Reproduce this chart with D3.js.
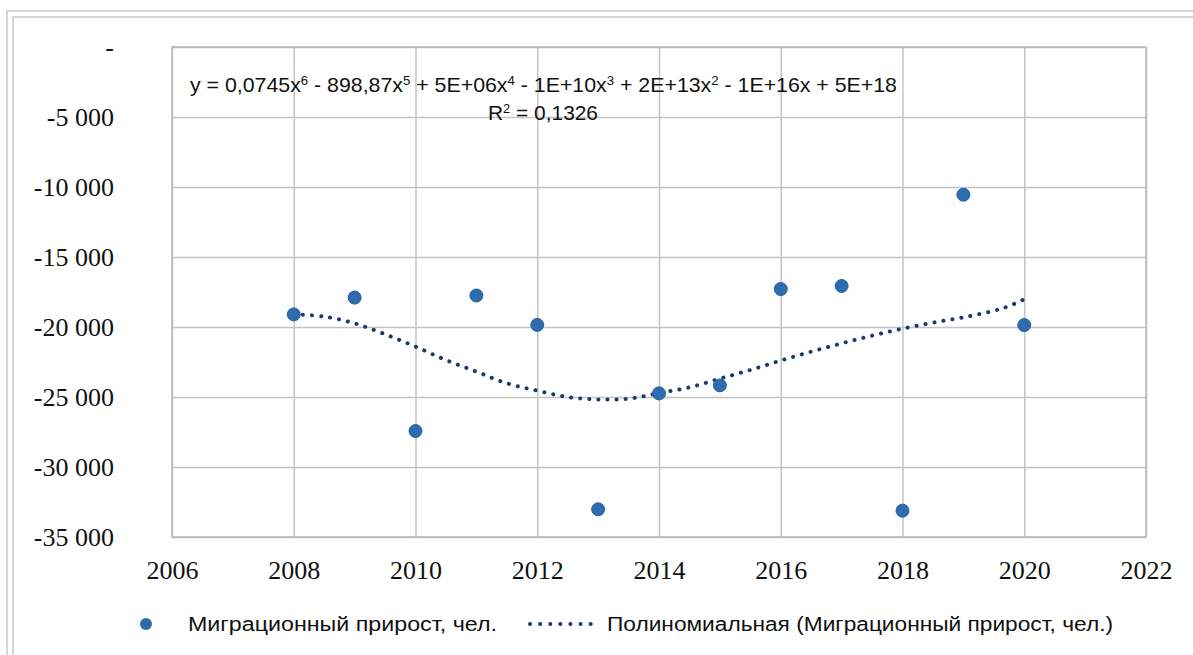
<!DOCTYPE html>
<html>
<head>
<meta charset="utf-8">
<script src="https://cdn.jsdelivr.net/npm/d3@7"></script>
<style>
  html, body { margin: 0; padding: 0; background: #fff; }
  svg { display: block; }
</style>
</head>
<body>
<svg id="chart" width="1193" height="655"></svg>
<script>
// ---- data ----
const years = [2008, 2009, 2010, 2011, 2012, 2013, 2014, 2015, 2016, 2017, 2018, 2019, 2020];
const values = [-19100, -17900, -27430, -17750, -19850, -33020, -24740, -24170, -17290, -17070, -33120, -10550, -19860];

// polynomial trendline as drawn in the reference
const trendYears = [2008, 2008.5, 2009, 2009.5, 2010, 2010.5, 2011, 2011.5, 2012, 2012.5, 2013, 2013.5, 2014,
                    2014.5, 2015, 2015.5, 2016, 2016.5, 2017, 2017.5, 2018, 2018.5, 2019, 2019.5, 2019.75, 2020];
const trendValues = [-19090, -19260, -19740, -20520, -21400, -22360, -23190, -24020, -24550, -25000, -25170, -25120, -24720,
                     -24310, -23690, -23070, -22400, -21760, -21170, -20620, -20120, -19690, -19310, -18840, -18500, -18020];

const xTicks = [2006, 2008, 2010, 2012, 2014, 2016, 2018, 2020, 2022];
const yTicks = [0, -5000, -10000, -15000, -20000, -25000, -30000, -35000];
const yTickLabels = ["-", "-5 000", "-10 000", "-15 000", "-20 000", "-25 000", "-30 000", "-35 000"];

const seriesName = "Миграционный прирост, чел.";
const trendName = "Полиномиальная (Миграционный прирост, чел.)";
const rSquared = "0,1326";

// ---- layout ----
const svg = d3.select("#chart");
const pLeft = 172, pRight = 1146, pTop = 47, pBottom = 537;
const x = d3.scaleLinear().domain([2006, 2022]).range([pLeft, pRight]);
const y = d3.scaleLinear().domain([-35000, 0]).range([pBottom, pTop]);

const gridColor = "#C4C4C4";
const pointColor = "#2E6DAD";
const trendColor = "#1B3A6B";

// outer double frame
const frame = svg.append("g").attr("fill", "none").attr("stroke", "#C8C8C8").attr("stroke-width", 1.5);
frame.append("path").attr("d", "M7,660 L7,11 L1200,11");
frame.append("path").attr("d", "M13,660 L13,17 L1200,17");

// gridlines
const grid = svg.append("g");
grid.append("g")
  .attr("transform", `translate(0,${pBottom})`)
  .call(d3.axisBottom(x).tickValues(xTicks).tickSize(-(pBottom - pTop)).tickFormat(""))
  .call(g => g.select(".domain").remove())
  .call(g => g.selectAll("line").attr("stroke", gridColor).attr("stroke-width", 1.5));
grid.append("g")
  .attr("transform", `translate(${pLeft},0)`)
  .call(d3.axisLeft(y).tickValues(yTicks).tickSize(-(pRight - pLeft)).tickFormat(""))
  .call(g => g.select(".domain").remove())
  .call(g => g.selectAll("line").attr("stroke", gridColor).attr("stroke-width", 1.5));

// plot border
svg.append("rect")
  .attr("x", pLeft).attr("y", pTop)
  .attr("width", pRight - pLeft).attr("height", pBottom - pTop)
  .attr("fill", "none").attr("stroke", "#B8B8B8").attr("stroke-width", 1.5);

// axes labels
const serif = "'Liberation Serif', 'Times New Roman', serif";
svg.append("g")
  .attr("transform", `translate(${pLeft},0)`)
  .call(d3.axisLeft(y).tickValues(yTicks).tickSize(0).tickPadding(58)
        .tickFormat((d, i) => yTickLabels[i]))
  .call(g => g.select(".domain").remove())
  .call(g => g.selectAll("text").attr("font-family", serif).attr("font-size", 26).attr("fill", "#111"));

svg.append("g")
  .attr("transform", `translate(0,${pBottom})`)
  .call(d3.axisBottom(x).tickValues(xTicks).tickSize(0).tickPadding(24).tickFormat(d3.format("d")))
  .call(g => g.select(".domain").remove())
  .call(g => g.selectAll("text").attr("font-family", serif).attr("font-size", 26).attr("fill", "#111"));

// trendline
const trendData = trendYears.map((t, i) => [t, trendValues[i]]);
svg.append("path")
  .datum(trendData)
  .attr("fill", "none")
  .attr("stroke", trendColor)
  .attr("stroke-width", 4)
  .attr("stroke-linecap", "round")
  .attr("stroke-dasharray", "0.1 9")
  .attr("d", d3.line().x(d => x(d[0])).y(d => y(d[1])).curve(d3.curveCatmullRom));

// points
svg.append("g").selectAll("circle")
  .data(years.map((yr, i) => [yr, values[i]]))
  .join("circle")
  .attr("cx", d => x(d[0]))
  .attr("cy", d => y(d[1]))
  .attr("r", 6.5)
  .attr("fill", pointColor)
  .attr("stroke", "#25619E")
  .attr("stroke-width", 1);

// equation
const sans = "'Liberation Sans Narrow', 'Liberation Sans', Arial, sans-serif";
const eq = svg.append("text")
  .attr("x", 190).attr("y", 92)
  .attr("font-family", sans).attr("font-size", 21).attr("fill", "#111")
  .attr("textLength", 707).attr("lengthAdjust", "spacingAndGlyphs");
const eqParts = [["y = 0,0745x", "6"], [" - 898,87x", "5"], [" + 5E+06x", "4"], [" - 1E+10x", "3"],
                 [" + 2E+13x", "2"], [" - 1E+16x + 5E+18", null]];
eqParts.forEach(([txt, sup]) => {
  eq.append("tspan").text(txt);
  if (sup) eq.append("tspan").attr("font-size", 13).attr("baseline-shift", "55%").text(sup);
});
const r2 = svg.append("text")
  .attr("x", 488).attr("y", 120)
  .attr("font-family", sans).attr("font-size", 21).attr("fill", "#111")
  .attr("textLength", 110).attr("lengthAdjust", "spacingAndGlyphs");
r2.append("tspan").text("R");
r2.append("tspan").attr("font-size", 13).attr("baseline-shift", "55%").text("2");
r2.append("tspan").text(" = " + rSquared);

// legend
const legY = 624;
svg.append("circle").attr("cx", 146).attr("cy", legY).attr("r", 6).attr("fill", pointColor);
svg.append("text").attr("x", 188).attr("y", legY + 7)
  .attr("font-family", sans).attr("font-size", 20).attr("fill", "#111")
  .attr("textLength", 309).attr("lengthAdjust", "spacingAndGlyphs")
  .text(seriesName);
svg.append("line")
  .attr("x1", 530).attr("x2", 600).attr("y1", legY).attr("y2", legY)
  .attr("stroke", trendColor).attr("stroke-width", 4)
  .attr("stroke-linecap", "round").attr("stroke-dasharray", "0.1 10");
svg.append("text").attr("x", 607).attr("y", legY + 7)
  .attr("font-family", sans).attr("font-size", 20).attr("fill", "#111")
  .attr("textLength", 506).attr("lengthAdjust", "spacingAndGlyphs")
  .text(trendName);
</script>
</body>
</html>
